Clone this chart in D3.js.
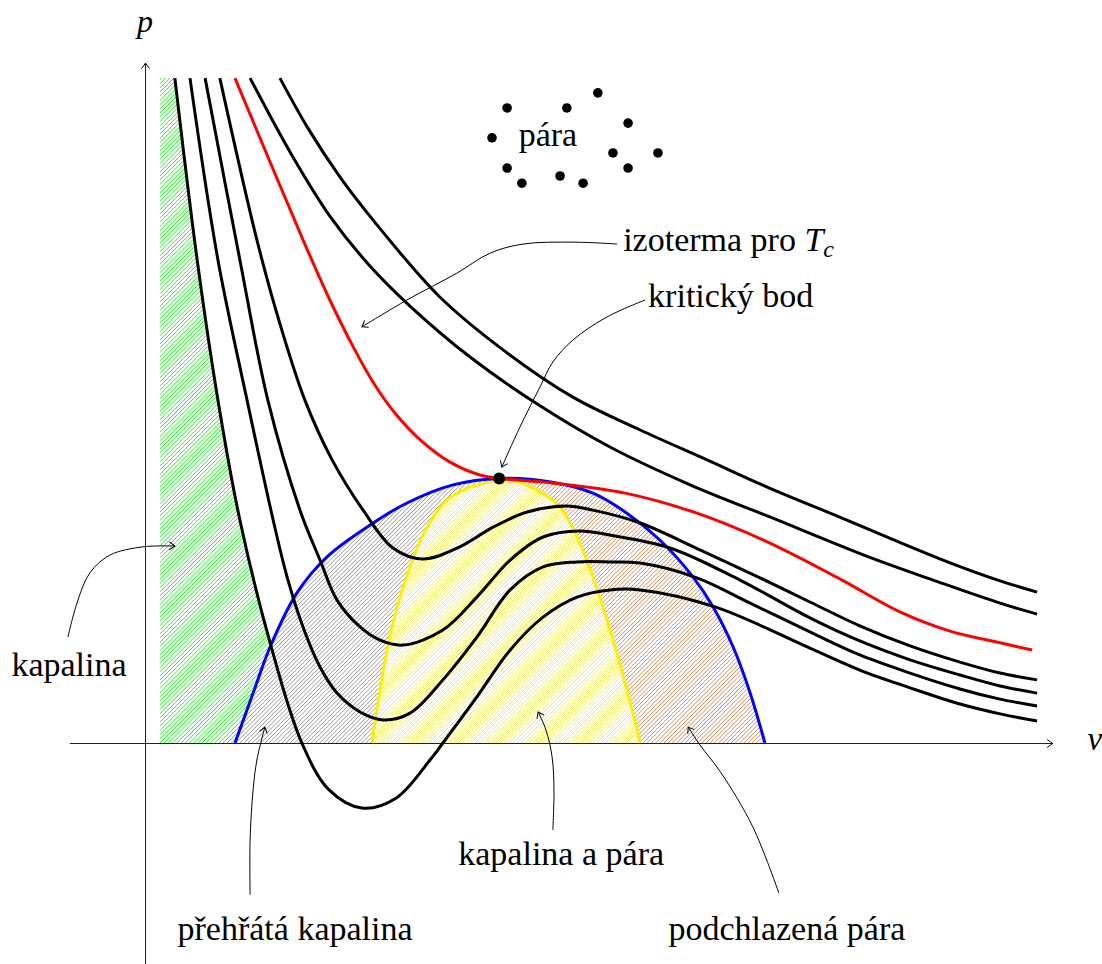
<!DOCTYPE html>
<html>
<head>
<meta charset="utf-8">
<script src="https://cdn.jsdelivr.net/npm/d3@7"></script>
<style>
  html, body { margin: 0; padding: 0; background: #fff; }
  svg { display: block; }
</style>
</head>
<body>
<svg id="chart" width="1102" height="964"></svg>
<script>
// ---- van der Waals isotherms in the p–v plane (v, p) ----
// four subcritical isotherms with loops, from the coldest one
const iso1 = [[0.79,17.59],[1.38,12.78],[1.93,9.07],[2.51,5.90],[3.31,2.65],[4.15,0],[4.87,-1.24],[5.74,-1.72],
  [6.64,-1.46],[7.54,-0.45],[7.88,0],[8.78,1.22],[9.66,2.46],[10.53,3.33],[11.43,3.86],[12.30,4.05],[13.10,4.05],
  [15.08,3.60],[17.59,2.51],[18.91,1.93],[20.24,1.46],[21.56,1.03],[22.62,0.77],[23.60,0.58]];
const iso2 = [[1.19,17.59],[1.93,12.78],[2.70,9.07],[3.39,5.90],[3.76,4.39],[4.18,3.07],[4.63,2.01],[5.08,1.32],
  [5.69,0.82],[6.30,0.61],[7.01,0.79],[7.88,1.67],[8.78,2.80],[9.66,4.05],[10.53,4.66],[11.43,4.79],[12.30,4.79],
  [13.10,4.76],[14.60,4.37],[16.01,3.70],[17.59,2.94],[18.91,2.33],[20.24,1.85],[21.56,1.43],[22.62,1.16],[23.60,0.98]];
const iso3 = [[1.59,17.59],[2.51,12.78],[3.25,9.07],[4.10,6.16],[4.63,4.84],[5.08,3.78],[5.69,3.07],[6.22,2.72],
  [6.83,2.59],[7.88,2.99],[8.78,3.86],[9.66,4.84],[10.53,5.45],[11.51,5.61],[12.30,5.50],[13.89,5.16],
  [15.74,4.31],[17.59,3.31],[18.91,2.70],[20.24,2.20],[21.56,1.80],[22.62,1.51],[23.60,1.32]];
const iso4 = [[1.98,17.59],[2.96,13.31],[3.54,11.19],[4.23,9.07],[4.95,7.49],[5.77,6.16],[6.56,5.16],[7.35,4.87],
  [8.33,5.19],[9.21,5.71],[10.11,6.11],[11.16,6.27],[11.85,6.16],[13.10,5.82],[14.68,5.11],[16.27,4.37],
  [17.59,3.73],[18.91,3.10],[20.24,2.57],[21.56,2.14],[22.62,1.85],[23.60,1.67]];
// critical isotherm T_c
const isoCritical = [[2.38,17.59],[4.18,13.31],[4.89,11.72],[5.55,10.40],[6.08,9.47],[6.61,8.73],[7.28,8.02],
  [8.07,7.43],[8.86,7.09],[9.37,7.00],[10.77,6.88],[12.70,6.61],[14.60,6.08],[16.53,5.29],[18.44,4.31],
  [19.97,3.47],[21.30,2.96],[22.62,2.65],[23.47,2.46]];
// two supercritical isotherms
const iso6 = [[2.78,17.59],[3.84,15.63],[4.89,13.94],[5.95,12.62],[7.01,11.56],[8.60,10.21],[10.45,8.92],
  [12.30,7.83],[14.42,6.83],[16.53,5.98],[19.23,4.89],[20.85,4.31],[22.62,3.70],[23.60,3.41]];
const iso7 = [[3.57,17.59],[4.29,16.30],[5.16,14.97],[6.03,13.84],[7.80,11.80],[9.58,10.32],[11.32,9.15],
  [13.10,8.28],[14.87,7.49],[16.46,6.77],[18.44,5.95],[21.11,4.84],[22.62,4.29],[23.60,3.99]];

// coexistence dome (binodal) and spinodal
const binodal = [[2.38,0],[2.86,1.32],[3.31,2.54],[4.02,3.97],[4.81,4.92],[5.87,5.71],[6.93,6.35],[8.15,6.83],
  [9.37,7.00],[10.77,6.90],[11.85,6.61],[12.75,6.08],[13.62,5.37],[14.50,4.39],[15.03,3.60],[15.56,2.54],
  [16.01,1.32],[16.40,0]];
const spinodal = [[6.01,0],[6.22,1.40],[6.56,3.17],[7.01,4.66],[7.46,5.71],[7.99,6.43],[8.41,6.69],[9.05,6.90],
  [9.39,6.96],[9.79,6.93],[10.37,6.69],[10.98,6.24],[11.43,5.45],[11.85,4.39],[12.30,2.99],[12.75,1.40],[13.10,0]];

const critical = [9.37, 7.00];
const liquidLeft = 0.40;      // left edge of the liquid band
const liquidTop = 17.59;

// vapour molecules
const molecules = [[9.58,16.80],[11.16,16.80],[11.98,17.20],[12.78,16.40],[9.18,16.01],[12.38,15.61],
  [13.57,15.61],[9.58,15.21],[9.97,14.81],[10.98,15.00],[11.59,14.81],[12.78,15.21]];

// annotation leader lines (v, p), drawn from the label to the arrow tip
const leaders = [
  [[12.49,13.20],[11.32,13.25],[10.00,13.20],[9.13,12.96],[8.25,12.43],[6.93,11.72],[5.74,11.01]],
  [[13.23,11.72],[12.22,11.27],[11.32,10.66],[10.79,10.08],[10.45,9.42],[9.92,8.36],[9.44,7.30]],
  [[-2.04,2.80],[-1.80,3.70],[-1.46,4.50],[-0.93,4.97],[-0.05,5.19],[0.79,5.21]],
  [[2.78,-4.02],[2.78,-2.57],[2.86,-1.24],[2.96,-0.45],[3.17,0.42]],
  [[10.79,-2.30],[10.82,-1.24],[10.77,-0.37],[10.61,0.34],[10.40,0.82]],
  [[16.77,-3.97],[16.08,-2.22],[15.24,-0.79],[14.68,-0.05],[14.37,0.42]]
];

// text labels: [text, v, p, anchor]
const labels = [
  ["pára", 10.66, 15.79, "middle"],
  ["kritický bod", 13.31, 11.53, "start"],
  ["kapalina", -2.01, 1.77, "middle"],
  ["kapalina a pára", 11.01, -3.23, "middle"],
  ["přehřátá kapalina", 3.97, -5.21, "middle"],
  ["podchlazená pára", 16.98, -5.21, "middle"]
];
const isoLabelPos = [12.65, 13.02];

// ---- drawing ----
const W = 1102, H = 964;
const FONT = "'Liberation Serif', serif";
const FS = 34;
const svg = d3.select("#chart");
svg.append("rect").attr("width", W).attr("height", H).attr("fill", "#fff");

const x = d3.scaleLinear().domain([-2, 24]).range([69.4, 1052.2]);
const y = d3.scaleLinear().domain([-6, 18]).range([969.8, 62.6]);

const defs = svg.append("defs");
defs.append("marker").attr("id", "tip")
  .attr("viewBox", "-7 -5 8 10").attr("refX", 0).attr("refY", 0)
  .attr("markerWidth", 8).attr("markerHeight", 10)
  .attr("markerUnits", "userSpaceOnUse").attr("orient", "auto")
  .append("path").attr("d", "M-5.5,-4 Q-1.5,-1 0,0 Q-1.5,1 -5.5,4")
  .attr("fill", "none").attr("stroke", "#000").attr("stroke-width", 1);

const line = d3.line().x(d => x(d[0])).y(d => y(d[1])).curve(d3.curveCatmullRom.alpha(0.5));

// north-east hatching of a closed region, optionally limited to a v-interval
let clipCount = 0;
function hatchRegion(d, color, vMin, vMax) {
  const id = "clip" + (clipCount++);
  defs.append("clipPath").attr("id", id).append("path").attr("d", d);
  let g = svg.append("g").attr("clip-path", `url(#${id})`);
  if (vMin !== undefined) {
    const id2 = "clip" + (clipCount++);
    defs.append("clipPath").attr("id", id2).append("rect")
      .attr("x", x(vMin)).attr("y", 0).attr("width", x(vMax) - x(vMin)).attr("height", H);
    g = g.append("g").attr("clip-path", `url(#${id2})`);
  }
  g.append("path").attr("d", d).attr("fill", "#fff");
  const step = 4.2;
  const starts = d3.range(-H, W + step, step);
  g.append("path")
    .attr("d", starts.map(s => `M${s},${H}L${s + H},0`).join(""))
    .attr("stroke", color).attr("stroke-width", 0.9).attr("fill", "none");
}

// liquid region: left of the coldest isotherm down to the v axis
const edgeEnd = iso1.findIndex(d => d[1] <= 0);
const liquidPath = line(iso1.slice(0, edgeEnd + 1)) +
  `L${x(liquidLeft)},${y(0)}L${x(liquidLeft)},${y(liquidTop)}Z`;
hatchRegion(liquidPath, "#00ee00");

// two-phase dome: superheated liquid (left), subcooled vapour (right)
const domePath = line(binodal) + "Z";
hatchRegion(domePath, "#8c8c8c", -2, critical[0]);
hatchRegion(domePath, "#c08050", critical[0], 24);
// region under the spinodal
hatchRegion(line(spinodal) + "Z", "#f5ee00");

// axes
const xAxis = svg.append("g").attr("transform", `translate(0,${y(0)})`)
  .call(d3.axisBottom(x).tickValues([]).tickSizeOuter(0));
xAxis.select(".domain").attr("stroke", "#222").attr("stroke-width", 1).attr("marker-end", "url(#tip)");
const yAxis = svg.append("g").attr("transform", `translate(${x(0)},0)`)
  .call(d3.axisLeft(y).tickValues([]).tickSizeOuter(0));
yAxis.select(".domain").attr("stroke", "#222").attr("stroke-width", 1).attr("marker-end", "url(#tip)");

// dome outlines
svg.append("path").attr("d", line(spinodal)).attr("fill", "none")
  .attr("stroke", "#ffee00").attr("stroke-width", 3);
svg.append("path").attr("d", line(binodal)).attr("fill", "none")
  .attr("stroke", "#0000ff").attr("stroke-width", 3);

// isotherms
[iso1, iso2, iso3, iso4, iso6, iso7].forEach(iso => {
  svg.append("path").attr("d", line(iso)).attr("fill", "none")
    .attr("stroke", "#000").attr("stroke-width", 3).attr("stroke-linejoin", "round");
});
svg.append("path").attr("d", line(isoCritical)).attr("fill", "none")
  .attr("stroke", "#ff0000").attr("stroke-width", 3);

// critical point
svg.append("circle").attr("cx", x(critical[0])).attr("cy", y(critical[1])).attr("r", 6).attr("fill", "#000");

// vapour molecules
svg.selectAll("circle.mol").data(molecules).enter().append("circle").attr("class", "mol")
  .attr("cx", d => x(d[0])).attr("cy", d => y(d[1])).attr("r", 4.8).attr("fill", "#000");

// leader arrows
leaders.forEach(pts => {
  svg.append("path").attr("d", line(pts)).attr("fill", "none")
    .attr("stroke", "#000").attr("stroke-width", 1).attr("marker-end", "url(#tip)");
});

// labels
function label(t, v, p, a, size) {
  return svg.append("text").attr("x", x(v)).attr("y", y(p)).attr("text-anchor", a)
    .style("font-family", FONT).attr("font-size", size || FS).attr("fill", "#000").text(t);
}
labels.forEach(([t, v, p, a]) => label(t, v, p, a));
const iso = svg.append("text").attr("x", x(isoLabelPos[0])).attr("y", y(isoLabelPos[1]))
  .style("font-family", FONT).attr("font-size", FS).attr("fill", "#000");
iso.append("tspan").text("izoterma pro ");
iso.append("tspan").attr("font-style", "italic").text("T");
iso.append("tspan").attr("font-style", "italic").attr("font-size", 24).attr("dy", 6).text("c");

// axis names
label("p", 0, 18.82, "middle", 32).attr("font-style", "italic");
label("v", 25.13, -0.19, "middle", 33).attr("font-style", "italic");
</script>
</body>
</html>
